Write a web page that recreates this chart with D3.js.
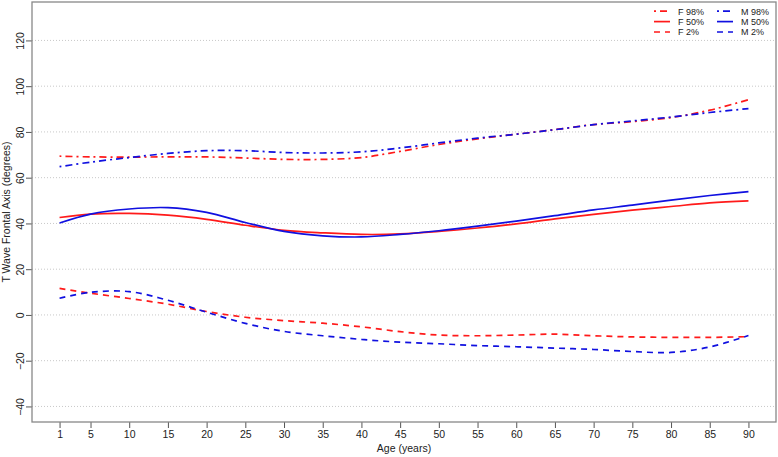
<!DOCTYPE html>
<html><head><meta charset="utf-8">
<script src="https://cdn.jsdelivr.net/npm/d3@7"></script>
<style>body{margin:0;background:#fff}svg{display:block}text{font-family:"Liberation Sans",Arial,sans-serif;fill:#222}</style>
</head><body><svg id="c" width="778" height="457"></svg>
<script>
const ages = [1,5,10,15,20,25,30,35,40,45,50,55,60,65,70,75,80,85,90];
const f98 = [69.4,69.1,69.0,69.1,69.1,68.6,68.0,68.0,68.8,71.5,74.5,77.0,79.0,81.0,83.2,84.5,86.3,89.5,94.1];
const m98 = [64.8,66.8,68.8,70.6,71.8,71.8,71.0,70.8,71.3,73.0,75.2,77.3,79.0,81.0,83.2,84.8,86.5,88.5,90.2];
const f50 = [42.6,44.1,44.4,43.6,41.8,39.2,37.0,35.9,35.2,35.4,36.5,38.0,39.8,42.0,44.0,45.8,47.4,49.0,49.9];
const m50 = [40.2,44.1,46.3,46.9,44.8,40.4,36.5,34.6,34.1,35.2,36.8,38.8,41.0,43.4,45.9,48.0,50.2,52.2,53.9];
const f2  = [11.6,9.5,7.2,4.7,1.5,-1.0,-2.5,-3.6,-5.2,-7.3,-8.8,-9.1,-8.8,-8.4,-9.1,-9.6,-9.8,-9.8,-9.5];
const m2  = [7.3,9.9,10.2,6.4,1.2,-3.7,-7.2,-9.1,-10.7,-11.9,-12.6,-13.4,-13.9,-14.5,-15.1,-16.0,-16.4,-14.0,-9.0];
const xTicks = [1,5,10,15,20,25,30,35,40,45,50,55,60,65,70,75,80,85,90];
const yTicks = [-40,-20,0,20,40,60,80,100,120];
const seriesNames = ["F 98%","F 50%","F 2%","M 98%","M 50%","M 2%"];

const svg = d3.select("#c");
const L=32,R=776,T=2,B=422;
const x = d3.scaleLinear().domain([1-0.04*89, 90+0.04*89]).range([L,R]);
const y = d3.scaleLinear().domain([-40-0.04*170, 130+0.04*170]).range([B,T]);

// grid
svg.append("g").selectAll("line").data(yTicks).join("line")
  .attr("x1",L).attr("x2",R).attr("y1",d=>y(d)).attr("y2",d=>y(d))
  .attr("stroke","#c8c8c8").attr("stroke-width",1).attr("stroke-dasharray","1,2");

// axes
const ax = svg.append("g").attr("transform",`translate(0,${B})`)
  .call(d3.axisBottom(x).tickValues(xTicks).tickSize(6).tickSizeOuter(0).tickPadding(3));
ax.select(".domain").remove();
ax.selectAll("line").attr("stroke","#555");
ax.selectAll("text").attr("font-size",10.5).attr("fill","#222").style("font-family",'"Liberation Sans",Arial,sans-serif');

const ay = svg.append("g").attr("transform",`translate(${L},0)`)
  .call(d3.axisLeft(y).tickValues(yTicks).tickSize(6).tickSizeOuter(0).tickFormat(d=>d<0?"\u2212"+Math.abs(d):d));
ay.select(".domain").remove();
ay.selectAll("line").attr("stroke","#555");
ay.selectAll("text").attr("font-size",10.5).attr("fill","#222").style("font-family",'"Liberation Sans",Arial,sans-serif')
  .attr("x",null).attr("dy",null).attr("text-anchor","middle")
  .attr("transform","translate(-8,0) rotate(-90)");

// box
svg.append("rect").attr("x",L).attr("y",T).attr("width",R-L).attr("height",B-T)
  .attr("fill","none").attr("stroke","#888").attr("stroke-width",1.3);

// titles
svg.append("text").attr("x",(L+R)/2).attr("y",452).attr("text-anchor","middle").attr("font-size",10.5).text("Age (years)");
svg.append("text").attr("transform",`translate(10,${(T+B)/2}) rotate(-90)`).attr("text-anchor","middle").attr("font-size",10.5).text("T Wave Frontal Axis (degrees)");

const RED="#ff1a1a", BLUE="#1010e0";
const DOTDASH="2,4,7,4", DASH="6,5";
const series = [
  {name:seriesNames[0],vals:f98,color:RED,dash:DOTDASH},
  {name:seriesNames[1],vals:f50,color:RED,dash:null},
  {name:seriesNames[2],vals:f2,color:RED,dash:DASH},
  {name:seriesNames[3],vals:m98,color:BLUE,dash:DOTDASH},
  {name:seriesNames[4],vals:m50,color:BLUE,dash:null},
  {name:seriesNames[5],vals:m2,color:BLUE,dash:DASH}
];
const line = d3.line().x((d,i)=>x(ages[i])).y(d=>y(d)).curve(d3.curveCatmullRom.alpha(0.5));
svg.append("g").selectAll("path").data(series).join("path")
  .attr("d",d=>line(d.vals)).attr("fill","none").attr("stroke",d=>d.color)
  .attr("stroke-width",1.7).attr("stroke-dasharray",d=>d.dash);

// legend
const lg = svg.append("g");
series.forEach((s,i)=>{
  const col = i<3?0:1, row=i%3;
  const lx = col===0?654:717, ly = 11.2+row*10.4;
  lg.append("line").attr("x1",lx).attr("x2",lx+16).attr("y1",ly).attr("y2",ly)
    .attr("stroke",s.color).attr("stroke-width",1.7).attr("stroke-dasharray",s.dash);
  lg.append("text").attr("x",lx+24).attr("y",ly+3.3).attr("font-size",9).text(s.name);
});
</script></body></html>
